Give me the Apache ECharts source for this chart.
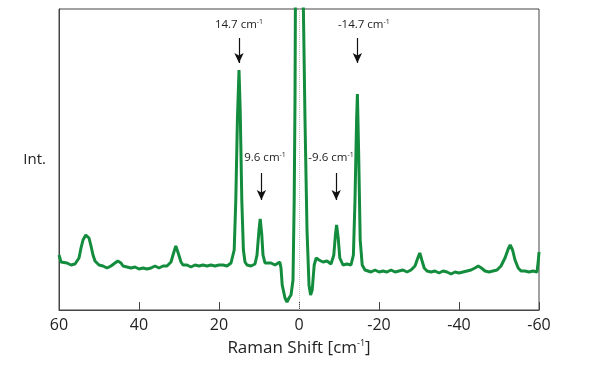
<!DOCTYPE html>
<html><head><meta charset="utf-8">
<script src="https://cdn.jsdelivr.net/npm/echarts@6/dist/echarts.min.js"></script>
<style>html,body{margin:0;padding:0;background:#fff}#c{width:600px;height:369px}</style>
</head><body><div id="c"></div>
<script>
// Raman shift (cm^-1) and intensity (arb. units)
const shift = [60,59.5,59,58,57,56,55.5,55,54.5,54,53.3,52.5,52,51.5,51,50,49,48,47,46,45.3,44.5,44,43,42,41,40,39,38,37,36,35,34,33,32,31.5,30.8,30.2,29.5,29,28,27,26,25,24,23,22,21,20,19,18,17,16.2,15.8,15.4,15.0,14.7,14.3,13.9,13.5,13,12,11,10.5,10.0,9.7,9.3,9.0,8.5,8,7,6,5.5,4.8,4.5,4.2,3.5,3.0,2.5,2.0,1.5,1.2,1.0,0.8,0.5,0,-0.5,-0.8,-1.1,-1.5,-2.0,-2.5,-2.9,-3.3,-3.8,-4.3,-5,-6,-7,-8,-8.7,-9.1,-9.4,-9.8,-10.2,-11,-12,-13,-13.6,-14.0,-14.4,-14.6,-14.9,-15.3,-15.8,-16.5,-17,-18,-19,-20,-21,-22,-23,-24,-25,-26,-27,-28,-29,-29.7,-30.2,-30.7,-31.3,-32,-33,-34,-35,-36,-37,-38,-39,-40,-41,-42,-43,-44,-44.8,-45.6,-46.5,-47.5,-48.5,-49.5,-50.5,-51.5,-52.3,-52.8,-53.4,-54,-54.8,-55.5,-56.5,-57.5,-58.5,-59.5,-59.8,-60];
const intensity = [55,48,46,47,45,46,48,52,62,70,75,72,64,55,49,45,44,42,44,47,49,47,44,43,42,43,41,42,41,42,44,42,44,44,48,55,64,57,48,45,45,43,45,44,45,44,45,44,45,45,44,47,60,110,190,240,200,110,60,48,45,44,46,55,80,91,75,55,47,46,47,45,46,48,42,25,12,8,12,15,30,110,210,400,600,900,600,400,301,190,80,25,15,20,45,52,50,48,49,46,55,75,85,72,52,45,46,45,55,110,190,216,160,70,45,40,42,38,40,38,39,38,40,38,39,40,38,40,44,52,57,50,42,39,38,39,37,39,38,36,38,37,38,39,40,42,44,42,39,38,39,40,44,52,61,65,60,50,42,39,39,38,39,38,48,58];
const xTicks = [60,40,20,0,-20,-40,-60];
// annotations
const annLabels = ['14.7','9.6','-9.6','-14.7'];
const annTextX = [15,8.5,-8,-16.2];
const annTextY = [285,152,152,285];
const arrowX = [15,9.4,-9.3,-14.6];
const arrowTop = [272,137,137,272];
const arrowBottom = [247,110,110,247];

const green = '#138d3d';
const font = '"Open Sans", "Noto Sans", sans-serif';
const chart = echarts.init(document.getElementById('c'));
const data = shift.map((s,i)=>[s,intensity[i]]);
const annPoints = annLabels.map((t,i)=>({coord:[annTextX[i],annTextY[i]], value:t}));
const arrows = arrowX.map((x,i)=>[{coord:[x,arrowTop[i]]},{coord:[x,arrowBottom[i]]}]);
chart.setOption({
  animation:false,
  grid:{left:59,right:61,top:9,bottom:59,show:true,borderColor:'#444',borderWidth:1},
  xAxis:{type:'value',min:-60,max:60,interval:20,inverse:true,
    axisLine:{onZero:false,lineStyle:{color:'#444',width:1}},
    axisTick:{inside:true,length:8,lineStyle:{color:'#444'}},
    splitLine:{show:false},
    axisLabel:{fontSize:16,color:'#222',fontFamily:font,margin:7,formatter:v=>String(v)},
    name:'{a|Raman Shift [cm}{s|-1}{a|]}',nameLocation:'middle',nameGap:29,
    nameTextStyle:{fontFamily:font,rich:{a:{fontSize:17,color:'#222',fontFamily:font,lineHeight:19},s:{fontSize:9,color:'#222',fontFamily:font,verticalAlign:'top',lineHeight:19}}}
  },
  yAxis:{type:'value',min:0,max:301,
    axisLine:{show:true,onZero:false,lineStyle:{color:'#444'}},axisTick:{show:false},axisLabel:{show:false},splitLine:{show:false},
    name:'Int.',nameLocation:'middle',nameRotate:0,nameGap:13,
    nameTextStyle:{fontSize:15,color:'#222',fontFamily:font,align:'right'}
  },
  series:[{
    type:'line',data:data,showSymbol:false,symbol:'none',clip:true,
    lineStyle:{color:green,width:3},
    markLine:{silent:true,symbol:['none','none'],label:{show:false},
      lineStyle:{color:'#c4c4c4',type:'dotted',width:1},data:[{xAxis:0}]}
  },{
    type:'line',data:[],
    markLine:{silent:true,symbol:['none','arrow'],symbolSize:[7,10],label:{show:false},
      lineStyle:{color:'#111',type:'solid',width:1.2},data:arrows},
    markPoint:{silent:true,symbol:'circle',symbolSize:0,
      label:{show:true,position:'inside',formatter:p=>'{a|'+p.value+' cm}{s|-1}',
        rich:{a:{fontSize:11.5,color:'#222',fontFamily:font,lineHeight:14},s:{fontSize:7,color:'#222',fontFamily:font,verticalAlign:'top',lineHeight:14}}},
      data:annPoints}
  }]
});
</script></body></html>
